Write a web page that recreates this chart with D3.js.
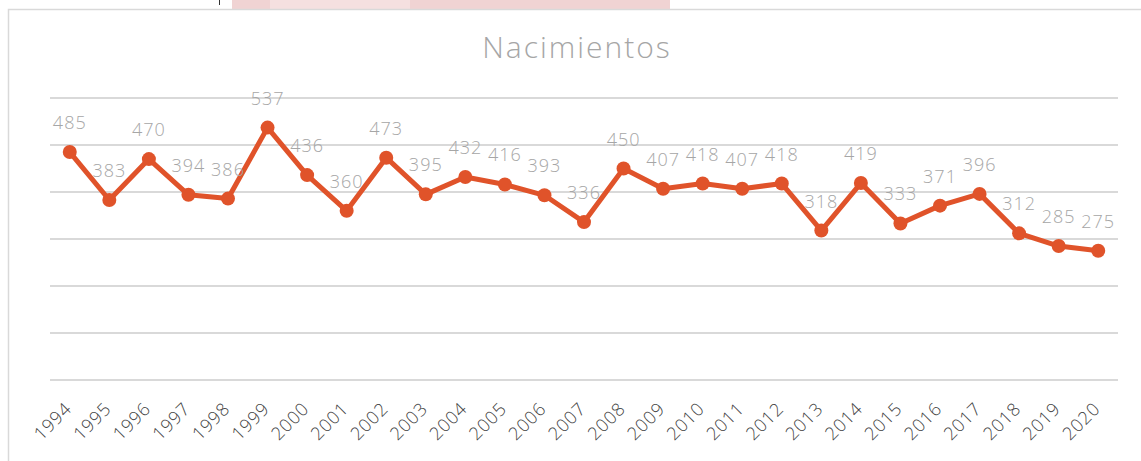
<!DOCTYPE html>
<html>
<head>
<meta charset="utf-8">
<script src="https://cdn.jsdelivr.net/npm/d3@7"></script>
<style>
html,body{margin:0;padding:0;background:#fff;}
svg{display:block;}
text{font-family:"Open Sans","Lato",sans-serif;}
</style>
</head>
<body>
<svg id="chart" width="1141" height="461"></svg>
<script>
const years = ["1994","1995","1996","1997","1998","1999","2000","2001","2002","2003","2004","2005","2006","2007","2008","2009","2010","2011","2012","2013","2014","2015","2016","2017","2018","2019","2020"];
const births = [485,383,470,394,386,537,436,360,473,395,432,416,393,336,450,407,418,407,418,318,419,333,371,396,312,285,275];
const yTicks = [0,100,200,300,400,500,600];
const title = "Nacimientos";

const svg = d3.select("#chart");
const mLeft = 50, mRight = 1118, mTop = 98, mBottom = 380;

// top fragment of a header image
svg.append("rect").attr("x",232).attr("y",0).attr("width",438).attr("height",9).attr("fill","#f0d3d3");
svg.append("rect").attr("x",270).attr("y",0).attr("width",140).attr("height",9).attr("fill","#f5e0e0");
svg.append("line").attr("x1",219.5).attr("x2",219.5).attr("y1",0).attr("y2",5).attr("stroke","#333").attr("stroke-width",1);

// frame
svg.append("rect").attr("x",8.5).attr("y",9.5).attr("width",1145).attr("height",470)
  .attr("fill","none").attr("stroke","#d9d9d9").attr("stroke-width",1.5);

const x = d3.scaleBand().domain(years).range([mLeft,mRight]);
const y = d3.scaleLinear().domain([0,600]).range([mBottom,mTop]);

// gridlines
svg.append("g").selectAll("line").data(yTicks).join("line")
  .attr("x1",mLeft).attr("x2",mRight)
  .attr("y1",d=>y(d)).attr("y2",d=>y(d))
  .attr("stroke","#d9d9d9").attr("stroke-width",2);

// title
svg.append("text").attr("x",577).attr("y",58).attr("text-anchor","middle")
  .attr("font-size",30).attr("font-weight",300).attr("fill","#a6a6a6").attr("letter-spacing",2)
  .text(title);

// x axis
const xAxis = d3.axisBottom(x).tickSize(0).tickPadding(0);
const gx = svg.append("g").attr("transform",`translate(0,${mBottom})`).call(xAxis);
gx.select(".domain").remove();
gx.selectAll("text")
  .attr("font-size",18).attr("font-weight",300).attr("fill","#444").attr("letter-spacing",0.8)
  .attr("text-anchor","end").attr("dy",0)
  .attr("transform",`translate(3,30) rotate(-45)`);

// line
const cx = d => x(d) + x.bandwidth()/2;
const line = d3.line().x((d,i)=>cx(years[i])).y(d=>y(d));
svg.append("path").datum(births).attr("d",line)
  .attr("fill","none").attr("stroke","#e0532a").attr("stroke-width",5).attr("stroke-linejoin","round");

svg.append("g").selectAll("circle").data(births).join("circle")
  .attr("cx",(d,i)=>cx(years[i])).attr("cy",d=>y(d)).attr("r",7).attr("fill","#e0532a");

// labels
svg.append("g").selectAll("text").data(births).join("text")
  .attr("x",(d,i)=>cx(years[i])).attr("y",d=>y(d)-23)
  .attr("text-anchor","middle").attr("font-size",18).attr("font-weight",300).attr("fill","#a6a6a6").attr("letter-spacing",1)
  .text(d=>d);
</script>
</body>
</html>
